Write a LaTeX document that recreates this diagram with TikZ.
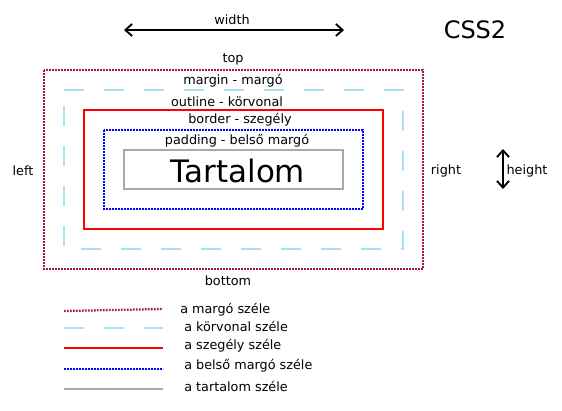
\documentclass[tikz,border=0pt]{standalone}
\usepackage{fontspec}
\setmainfont{DejaVu Sans}
\usetikzlibrary{arrows.meta}
\definecolor{margincol}{RGB}{170,20,80}
\definecolor{outlinecol}{RGB}{170,225,245}
\definecolor{contentcol}{RGB}{160,176,168}
\tikzset{
  lbl/.style={font=\fontsize{9.6}{11}\selectfont,inner sep=0pt},
  legendlbl/.style={lbl,anchor=west},
  marginline/.style={draw=margincol,line width=1.7pt,dash pattern=on 1.3pt off 0.95pt},
  outlineline/.style={draw=outlinecol,line width=1.6pt,dash pattern=on 15pt off 15pt},
  borderline/.style={draw=red,line width=1.5pt},
  paddingline/.style={draw=blue,line width=1.7pt,dash pattern=on 1.3pt off 0.95pt},
  contentline/.style={draw=contentcol,line width=1.6pt},
  dimarrow/.style={{Straight Barb[length=5pt,width=9pt]}-{Straight Barb[length=5pt,width=9pt]},line width=1.4pt}
}
\begin{document}
\begin{tikzpicture}[x=0.75pt,y=-0.75pt]
  \useasboundingbox (0,0) rectangle (562,411);
  % dimension arrows
  \coordinate (wl) at (124,30);
  \coordinate (wr) at (344,30);
  \draw[dimarrow] (wl)--(wr);
  \node[lbl] (width) at (232,19.5) {width};
  \node[font=\fontsize{18}{20}\selectfont,inner sep=0pt] (css) at (475,30) {CSS2};
  \coordinate (ht) at (503,149);
  \coordinate (hb) at (503,189);
  \draw[dimarrow] (ht)--(hb);
  \node[lbl] (height) at (527,171) {height};
  % the boxes
  \draw[marginline] (44,70) rectangle (423,269);
  \draw[outlineline] (64,90)--(403,90)--(403,249)--(64,249)--cycle; %clockwise, so the dashes start at top left
  \draw[borderline] (84,110) rectangle (383,229);
  \draw[paddingline] (104,130) rectangle (363,209);
  \draw[contentline] (124,150) rectangle (343,189);
  \node[font=\fontsize{23.2}{26}\selectfont,inner sep=0pt] (content) at (238,171) {Tartalom};
  \node[lbl] (top) at (233,59) {top};
  \node[lbl] (margin) at (233,81) {margin - margó};
  \node[lbl] (outline) at (227,102) {outline - körvonal};
  \node[lbl] (border) at (240,120) {border - szegély};
  \node[lbl] (padding) at (237,141) {padding - belső margó};
  \node[lbl] (left) at (23,171) {left};
  \node[lbl] (right) at (446,171) {right};
  \node[lbl] (bottom) at (228,281) {bottom};
  % legend
  \draw[marginline] (64,311)--(163,309);
  \draw[outlineline] (64,328)--(163,328);
  \draw[borderline] (64,348)--(163,348);
  \draw[paddingline] (64,369)--(163,369);
  \draw[contentline] (64,389)--(163,389);
  \node[legendlbl] (lmargin) at (180,310) {a margó széle};
  \node[legendlbl] (loutline) at (184,326) {a körvonal széle};
  \node[legendlbl] (lborder) at (184,346) {a szegély széle};
  \node[legendlbl] (lpadding) at (184,366) {a belső margó széle};
  \node[legendlbl] (lcontent) at (184,386) {a tartalom széle};
\end{tikzpicture}
\end{document}
